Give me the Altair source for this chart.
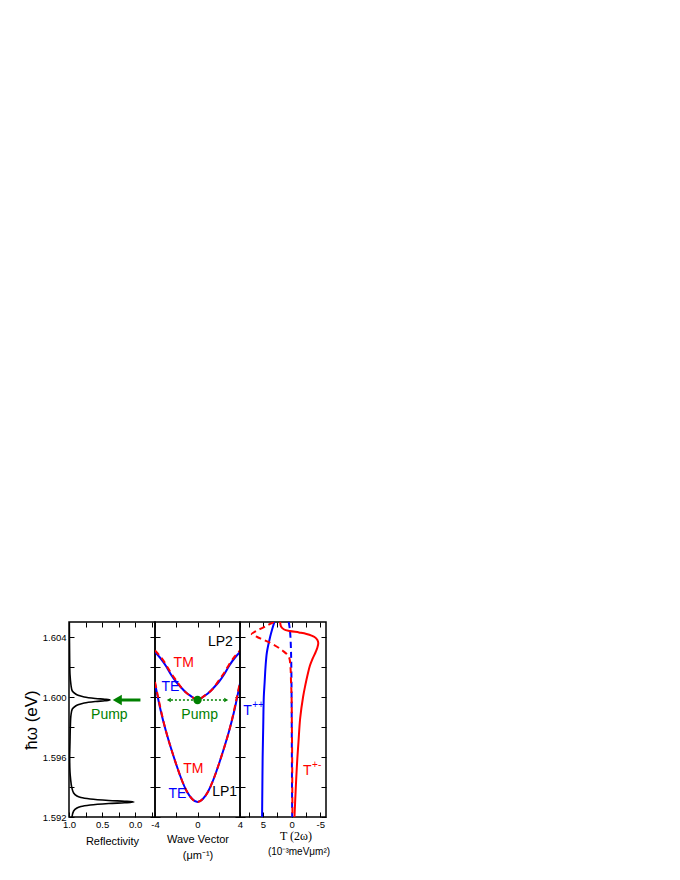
import altair as alt
import pandas as pd

# ---------------- data ----------------
# Panel 1: reflectivity spectrum (photon energy in eV, reflectivity)
refl_energy = [1.5920, 1.5924, 1.5926, 1.5927, 1.5928, 1.5929, 1.59295, 1.5930,
               1.59305, 1.5931, 1.5932, 1.5933, 1.5934, 1.5936, 1.5940, 1.5945,
               1.5950, 1.5960, 1.5970, 1.5980, 1.5988, 1.5992, 1.5994, 1.5995,
               1.5996, 1.5997, 1.59975, 1.5998, 1.59985, 1.5999, 1.6000, 1.6001,
               1.6002, 1.6004, 1.6008, 1.6015, 1.6025, 1.6050]
refl_value = [0.955, 0.93, 0.88, 0.82, 0.68, 0.40, 0.16, 0.02,
              0.16, 0.40, 0.68, 0.82, 0.88, 0.93, 0.96, 0.975,
              0.985, 0.99, 0.985, 0.98, 0.97, 0.95, 0.90, 0.85,
              0.77, 0.60, 0.46, 0.38, 0.46, 0.60, 0.77, 0.85,
              0.90, 0.95, 0.97, 0.985, 0.99, 0.995]
pump_arrow_R = [-0.08, 0.22]
pump_head_R = [0.27]
pump_energy = 1.5998

# Panel 2: dispersion (wave vector in 1/um, energy in eV)
wave_k = [-4, -3.5, -3, -2.5, -2, -1.5, -1, -0.5, 0, 0.5, 1, 1.5, 2, 2.5, 3, 3.5, 4]
lp1_te = [1.6009, 1.5992, 1.5978, 1.5966, 1.5955, 1.5945, 1.5937, 1.5932, 1.5930,
          1.5932, 1.5937, 1.5945, 1.5955, 1.5966, 1.5978, 1.5992, 1.6009]
lp1_tm = [1.6010, 1.5993, 1.5978, 1.5966, 1.5955, 1.5945, 1.5937, 1.5932, 1.5930,
          1.5932, 1.5937, 1.5945, 1.5955, 1.5966, 1.5978, 1.5993, 1.6010]
lp2_te = [1.6030, 1.6026, 1.6021, 1.6015, 1.6010, 1.6006, 1.60025, 1.6000, 1.5998,
          1.6000, 1.60025, 1.6006, 1.6010, 1.6015, 1.6021, 1.6026, 1.6030]
lp2_tm = [1.6031, 1.6027, 1.6022, 1.6016, 1.6011, 1.6006, 1.60025, 1.6000, 1.5998,
          1.6000, 1.60025, 1.6006, 1.6011, 1.6016, 1.6022, 1.6027, 1.6031]
pump_k_line = [-2.5, 2.5]
pump_k_heads = [-2.7, 2.7]
pump_k_shapes = ["triangle-left", "triangle-right"]

# Panel 3: T(2w) curves (energy in eV, T in 1e-3 meV um^2)
tpp_solid_E = [1.6050, 1.6045, 1.6040, 1.6030, 1.6020, 1.6010, 1.6000, 1.5980, 1.5960, 1.5940, 1.5920]
tpp_solid_T = [3.0, 3.4, 3.75, 4.3, 4.55, 4.7, 4.85, 4.95, 5.05, 5.1, 5.15]
tpp_dash_E = [1.6050, 1.6045, 1.6040, 1.6030, 1.6020, 1.6000, 1.5960, 1.5920]
tpp_dash_T = [0.5, 0.3, 0.2, 0.1, 0.05, 0.0, -0.05, -0.1]
tpm_dash_E = [1.6050, 1.6047, 1.6044, 1.6042, 1.6040, 1.6038, 1.6035, 1.6031, 1.6027,
              1.6020, 1.6010, 1.6000, 1.5980, 1.5960, 1.5940, 1.5920]
tpm_dash_T = [3.1, 4.6, 6.2, 6.95, 6.0, 4.8, 3.2, 1.6, 0.5,
              0.2, 0.1, 0.0, -0.05, -0.1, -0.12, -0.15]
tpm_solid_E = [1.6050, 1.6047, 1.6045, 1.6044, 1.6043, 1.6042, 1.6040, 1.6038, 1.6036,
               1.6033, 1.6030, 1.6025, 1.6021, 1.6015, 1.6008, 1.6000, 1.5986, 1.5970,
               1.5959, 1.5945, 1.5937, 1.5920]
tpm_solid_T = [2.0, 1.85, 1.3, 0.3, -1.3, -2.6, -4.0, -4.5, -4.65,
               -4.5, -4.2, -3.6, -3.2, -2.8, -2.4, -2.0, -1.5, -1.2,
               -1.0, -0.8, -0.7, -0.5]

# labels: (text, x, energy, colour)
p1_labels = [("Pump", 0.39, 1.5988, "#008000")]
p2_labels = [("TM", -1.3, 1.60227, "#ff0000"), ("TE", -2.55, 1.60067, "#0000ff"),
             ("Pump", 0.2, 1.5988, "#008000"), ("LP2", 2.15, 1.60367, "black"),
             ("TM", -0.4, 1.5952, "#ff0000"), ("TE", -1.9, 1.59353, "#0000ff"),
             ("LP1", 2.55, 1.59367, "black")]
# (base, superscript, T, energy, colour)
p3_labels = [("T", "++", 8.45, 1.5991, "#0000ff"), ("T", "+-", -2.0, 1.59507, "#ff0000")]

y_ticks = [1.592, 1.594, 1.596, 1.598, 1.600, 1.602, 1.604]
x1_ticks = [1.0, 0.75, 0.5, 0.25, 0.0, -0.25]
x2_ticks = [-4, -2, 0, 2, 4]
x3_ticks = [7.5, 5, 2.5, 0, -2.5, -5]

# ---------------- styling helpers ----------------
FONT = "Liberation Sans"
H = 195
Y_SCALE = alt.Scale(domain=[1.592, 1.605], nice=False, zero=False)
X1 = alt.Scale(domain=[1.0, -0.3], nice=False, zero=False)
X2 = alt.Scale(domain=[-4, 4], nice=False, zero=False)
X3 = alt.Scale(domain=[9, -6], nice=False, zero=False)
BLUE, RED, GREEN = "#0000ff", "#ff0000", "#008000"


def ax(orient, values, labels=True, label_expr=None, title=None, **kw):
    d = dict(orient=orient, values=values, domain=False, grid=False, ticks=True,
             tickSize=5, offset=-5, tickColor="black", tickWidth=1, labels=labels,
             labelFont=FONT, labelFontSize=9.5, labelColor="black", labelPadding=2,
             labelFlush=False, labelOverlap=False, labelBound=False, title=title,
             titleFont=FONT, titleFontWeight="normal", titleColor="black")
    if label_expr:
        d["labelExpr"] = label_expr
    d.update(kw)
    return alt.Axis(**d)


Y_LABELS = "round(datum.value*1000) % 4 == 0 ? format(datum.value, '.3f') : ''"


def frame(df, xf, xs, xticks):
    return alt.Chart(df).mark_point(opacity=0).encode(
        x=alt.X(xf, scale=xs, axis=ax("top", xticks, labels=False)),
        y=alt.Y("E:Q", scale=Y_SCALE, axis=ax("right", y_ticks, labels=False)))


def labels_layer(rows, xs):
    df = pd.DataFrame(rows, columns=["txt", "x", "E", "col"])
    return alt.Chart(df).mark_text(font=FONT, fontSize=14, align="center",
                                   baseline="middle").encode(
        x=alt.X("x:Q", scale=xs, axis=None),
        y=alt.Y("E:Q", scale=Y_SCALE, axis=None),
        text="txt:N", color=alt.Color("col:N", scale=None))


# ---------------- panel 1 ----------------
refl_df = pd.DataFrame({"R": refl_value, "E": refl_energy})
p1_main = alt.Chart(refl_df).mark_line(color="black", strokeWidth=1.6,
                                        interpolate="catmull-rom", clip=True).encode(
    x=alt.X("R:Q", scale=X1,
            axis=ax("bottom", x1_ticks,
                    label_expr="abs(datum.value*4 % 2) < 0.01 ? format(datum.value, '.1f') : ''",
                    title="Reflectivity", titleFontSize=11, titlePadding=7)),
    y=alt.Y("E:Q", scale=Y_SCALE,
            axis=ax("left", y_ticks, label_expr=Y_LABELS, title="ħω (eV)",
                    titleFontSize=17, titlePadding=2, labelPadding=3)),
    order="E:Q")
arrow_df = pd.DataFrame({"R": pump_arrow_R, "E": [pump_energy] * len(pump_arrow_R)})
p1_arrow = alt.Chart(arrow_df).mark_line(color=GREEN, strokeWidth=3).encode(
    x=alt.X("R:Q", scale=X1, axis=None), y=alt.Y("E:Q", scale=Y_SCALE, axis=None))
head_df = pd.DataFrame({"R": pump_head_R, "E": [pump_energy]})
p1_head = alt.Chart(head_df).mark_point(shape="triangle-left", filled=True, opacity=1,
                                         color=GREEN, size=110).encode(
    x=alt.X("R:Q", scale=X1, axis=None), y=alt.Y("E:Q", scale=Y_SCALE, axis=None))
p1 = alt.layer(frame(refl_df, "R:Q", X1, x1_ticks), p1_main, p1_arrow, p1_head,
               labels_layer(p1_labels, X1)).resolve_axis(
    x="independent", y="independent").properties(width=86, height=H)

# ---------------- panel 2 ----------------
disp_df = pd.DataFrame({"k": wave_k, "lp1_te": lp1_te, "lp1_tm": lp1_tm,
                        "lp2_te": lp2_te, "lp2_tm": lp2_tm})
frame2_df = pd.DataFrame({"k": wave_k, "E": lp1_te})


def disp_line(col, color, dash, main=False):
    m = dict(color=color, strokeWidth=2, interpolate="natural", clip=True)
    if dash:
        m["strokeDash"] = [6, 4]
    if main:
        xa = ax("bottom", x2_ticks,
                label_expr="datum.value % 4 == 0 ? '' + datum.value : ''",
                title=["Wave Vector", "(μm⁻¹)"], titleFontSize=11,
                titlePadding=5, titleLineHeight=16)
        ya = ax("left", y_ticks, labels=False)
    else:
        xa, ya = None, None
    return alt.Chart(disp_df).mark_line(**m).encode(
        x=alt.X("k:Q", scale=X2, axis=xa),
        y=alt.Y(f"{col}:Q", scale=Y_SCALE, axis=ya))


pump2_df = pd.DataFrame({"k": pump_k_line, "E": [pump_energy] * 2})
p2_pumpline = alt.Chart(pump2_df).mark_line(color=GREEN, strokeWidth=1.5,
                                             strokeDash=[2, 2]).encode(
    x=alt.X("k:Q", scale=X2, axis=None), y=alt.Y("E:Q", scale=Y_SCALE, axis=None))
heads2_df = pd.DataFrame({"k": pump_k_heads, "E": [pump_energy] * 2, "shp": pump_k_shapes})
p2_heads = alt.Chart(heads2_df).mark_point(filled=True, opacity=1, color=GREEN,
                                            size=22).encode(
    x=alt.X("k:Q", scale=X2, axis=None), y=alt.Y("E:Q", scale=Y_SCALE, axis=None),
    shape=alt.Shape("shp:N", scale=None))
dot_df = pd.DataFrame({"k": [0], "E": [pump_energy]})
p2_dot = alt.Chart(dot_df).mark_circle(color=GREEN, opacity=1, size=70).encode(
    x=alt.X("k:Q", scale=X2, axis=None), y=alt.Y("E:Q", scale=Y_SCALE, axis=None))

p2 = alt.layer(frame(frame2_df, "k:Q", X2, x2_ticks),
               disp_line("lp1_te", BLUE, False, main=True),
               disp_line("lp2_te", BLUE, False),
               disp_line("lp1_tm", RED, True),
               disp_line("lp2_tm", RED, True),
               p2_pumpline, p2_heads, p2_dot,
               labels_layer(p2_labels, X2)).resolve_axis(
    x="independent", y="independent").properties(width=85, height=H)

# ---------------- panel 3 ----------------
def tcurve(Es, Ts, color, dash, main=False):
    df = pd.DataFrame({"E": Es, "T": Ts, "i": list(range(len(Es)))})
    m = dict(color=color, strokeWidth=2, interpolate="catmull-rom", clip=True)
    if dash:
        m["strokeDash"] = [6, 4]
    if main:
        xa = ax("bottom", x3_ticks,
                label_expr="datum.value % 5 == 0 ? '' + datum.value : ''")
        ya = ax("left", y_ticks, labels=False)
    else:
        xa, ya = None, None
    return alt.Chart(df).mark_line(**m).encode(
        x=alt.X("T:Q", scale=X3, axis=xa),
        y=alt.Y("E:Q", scale=Y_SCALE, axis=ya),
        order="i:Q")


frame3_df = pd.DataFrame({"T": tpp_solid_T, "E": tpp_solid_E})
title3_df = pd.DataFrame({"t": ["T (2ω)", "(10⁻³meVμm²)"]})
p3_t1 = alt.Chart(title3_df.iloc[[0]]).mark_text(
    font="Liberation Serif", fontSize=12, align="center", baseline="middle").encode(
    text="t:N", x=alt.value(56), y=alt.value(214))
p3_t2 = alt.Chart(title3_df.iloc[[1]]).mark_text(
    font=FONT, fontSize=10, align="center", baseline="middle").encode(
    text="t:N", x=alt.value(59), y=alt.value(230))

lab3_df = pd.DataFrame(p3_labels, columns=["base", "sup", "x", "E", "col"])
p3_base = alt.Chart(lab3_df).mark_text(font=FONT, fontSize=14, align="left",
                                        baseline="middle").encode(
    x=alt.X("x:Q", scale=X3, axis=None), y=alt.Y("E:Q", scale=Y_SCALE, axis=None),
    text="base:N", color=alt.Color("col:N", scale=None))
p3_sup = alt.Chart(lab3_df).mark_text(font=FONT, fontSize=10, align="left",
                                       baseline="middle", dx=9, dy=-6).encode(
    x=alt.X("x:Q", scale=X3, axis=None), y=alt.Y("E:Q", scale=Y_SCALE, axis=None),
    text="sup:N", color=alt.Color("col:N", scale=None))

p3 = alt.layer(frame(frame3_df, "T:Q", X3, x3_ticks),
               tcurve(tpp_solid_E, tpp_solid_T, BLUE, False, main=True),
               tcurve(tpp_dash_E, tpp_dash_T, BLUE, True),
               tcurve(tpm_dash_E, tpm_dash_T, RED, True),
               tcurve(tpm_solid_E, tpm_solid_T, RED, False),
               p3_base, p3_sup, p3_t1, p3_t2).resolve_axis(
    x="independent", y="independent").properties(width=86, height=H)

chart = alt.hconcat(p1, p2, p3, spacing=0, bounds="flush").properties(
    padding={"left": 13, "top": 610, "right": 5, "bottom": 5}
).configure_view(stroke="black", strokeWidth=1.5)

chart.save("out.html", embed_options={"renderer": "svg", "actions": False})
